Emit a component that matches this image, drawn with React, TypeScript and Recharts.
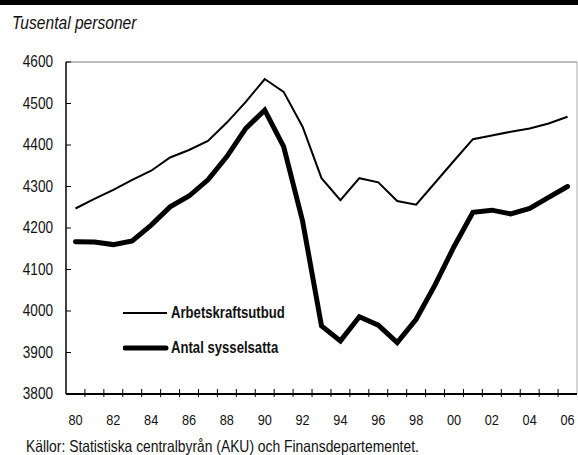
import React from "react";
import { LineChart, Line, XAxis, YAxis, ReferenceLine } from "recharts";

const years = [
  1980, 1981, 1982, 1983, 1984, 1985, 1986, 1987, 1988, 1989,
  1990, 1991, 1992, 1993, 1994, 1995, 1996, 1997, 1998, 1999,
  2000, 2001, 2002, 2003, 2004, 2005, 2006,
];

// Arbetskraftsutbud (thin line)
const arbetskraft = [
  4247, 4270, 4292, 4316, 4338, 4370, 4388, 4410, 4454, 4504,
  4559, 4528, 4444, 4320, 4267, 4320, 4310, 4265, 4256, 4309,
  4362, 4414, 4423, 4432, 4440, 4452, 4468,
];

// Antal sysselsatta (thick line)
const sysselsatta = [
  4167, 4166, 4160, 4169, 4207, 4251, 4277, 4316, 4372, 4440,
  4484, 4396, 4217, 3964, 3928, 3986, 3966, 3924, 3980, 4063,
  4155, 4238, 4243, 4234, 4247, 4274, 4300,
];

const yTicks = [3800, 3900, 4000, 4100, 4200, 4300, 4400, 4500, 4600];
const labelYears = [1980, 1982, 1984, 1986, 1988, 1990, 1992, 1994, 1996, 1998, 2000, 2002, 2004, 2006];
const boundaryTicks = years.slice(0, -1).map((y) => y + 0.5);

const data = years.map((year, i) => ({
  year,
  arbetskraft: arbetskraft[i],
  sysselsatta: sysselsatta[i],
}));

// no narrow font installed: squeeze Liberation Sans horizontally instead
const FONT = "'Liberation Sans', Arial, sans-serif";
const narrow = (s = 0.82): React.CSSProperties => ({
  transform: `scaleX(${s})`,
  transformOrigin: "left center",
  display: "inline-block",
  whiteSpace: "nowrap",
});

function YTick({ x, y, payload }: any) {
  return (
    <g>
      <line x1={x} x2={x + 5} y1={y} y2={y} stroke="#000" strokeWidth={1} />
      <text transform={`translate(${x - 13},${y}) scale(0.85,1)`} textAnchor="end" dominantBaseline="central"
        fontFamily={FONT} fontSize={16} fill="#111">
        {payload.value}
      </text>
    </g>
  );
}

function XTick({ x, y, payload }: any) {
  const v = payload.value as number;
  if (v % 1 !== 0) {
    return <line x1={x} x2={x} y1={y - 5} y2={y + 3} stroke="#000" strokeWidth={1} />;
  }
  return (
    <text transform={`translate(${x},${y + 31}) scale(0.85,1)`} textAnchor="middle"
      fontFamily={FONT} fontSize={15} fill="#111">
      {String(v).slice(2)}
    </text>
  );
}

export default function App() {
  return (
    <div style={{ position: "absolute", left: 0, top: 0, width: 578, height: 455, background: "#fff", overflow: "hidden" }}>
      {/* cut-off title bar */}
      <div style={{ position: "absolute", left: 0, top: 0, width: 578, height: 5, background: "#000" }} />

      <div style={{ position: "absolute", left: 12, top: 12, fontFamily: FONT, fontStyle: "italic", fontSize: 19, color: "#111", lineHeight: "22px" }}>
        <span style={narrow()}>Tusental personer</span>
      </div>

      <LineChart width={578} height={455} data={data} margin={{ top: 62, right: 1, bottom: 31, left: 0 }}>
        <XAxis
          dataKey="year" type="number" domain={[1979.5, 2006.5]} allowDataOverflow
          ticks={[...boundaryTicks, ...labelYears].sort((a, b) => a - b)}
          interval={0} tickSize={0} tickMargin={0} tickLine={false}
          axisLine={{ stroke: "#000", strokeWidth: 2 }}
          tick={<XTick />} height={30}
        />
        <YAxis
          domain={[3800, 4600]} ticks={yTicks} interval={0} width={66}
          tickSize={0} tickMargin={0} tickLine={false}
          axisLine={{ stroke: "#000", strokeWidth: 1.5 }}
          tick={<YTick />}
        />
        <ReferenceLine y={4600} stroke="#777" strokeWidth={1} />
        <ReferenceLine x={2006.5} stroke="#aaa" strokeWidth={1} />
        <Line type="linear" dataKey="arbetskraft" stroke="#000" strokeWidth={2}
          dot={false} isAnimationActive={false} strokeLinejoin="miter" />
        <Line type="linear" dataKey="sysselsatta" stroke="#000" strokeWidth={5}
          dot={false} isAnimationActive={false} strokeLinejoin="miter" strokeLinecap="round" />
      </LineChart>

      {/* legend */}
      <div style={{ position: "absolute", left: 123, top: 302, fontFamily: FONT, fontWeight: "bold", fontSize: 16, color: "#111" }}>
        <div style={{ display: "flex", alignItems: "center", height: 22 }}>
          <svg width={48} height={10}><line x1={0} x2={44} y1={5} y2={5} stroke="#000" strokeWidth={2} /></svg>
          <span style={narrow()}>Arbetskraftsutbud</span>
        </div>
        <div style={{ display: "flex", alignItems: "center", height: 22, marginTop: 13 }}>
          <svg width={48} height={10}><line x1={2} x2={43} y1={5} y2={5} stroke="#000" strokeWidth={5} strokeLinecap="round" /></svg>
          <span style={narrow()}>Antal sysselsatta</span>
        </div>
      </div>

      <div style={{ position: "absolute", left: 26, top: 437, fontFamily: FONT, fontSize: 16.5, color: "#111", lineHeight: "18px" }}>
        <span style={narrow(0.84)}>Källor: Statistiska centralbyrån (AKU) och Finansdepartementet.</span>
      </div>
    </div>
  );
}
